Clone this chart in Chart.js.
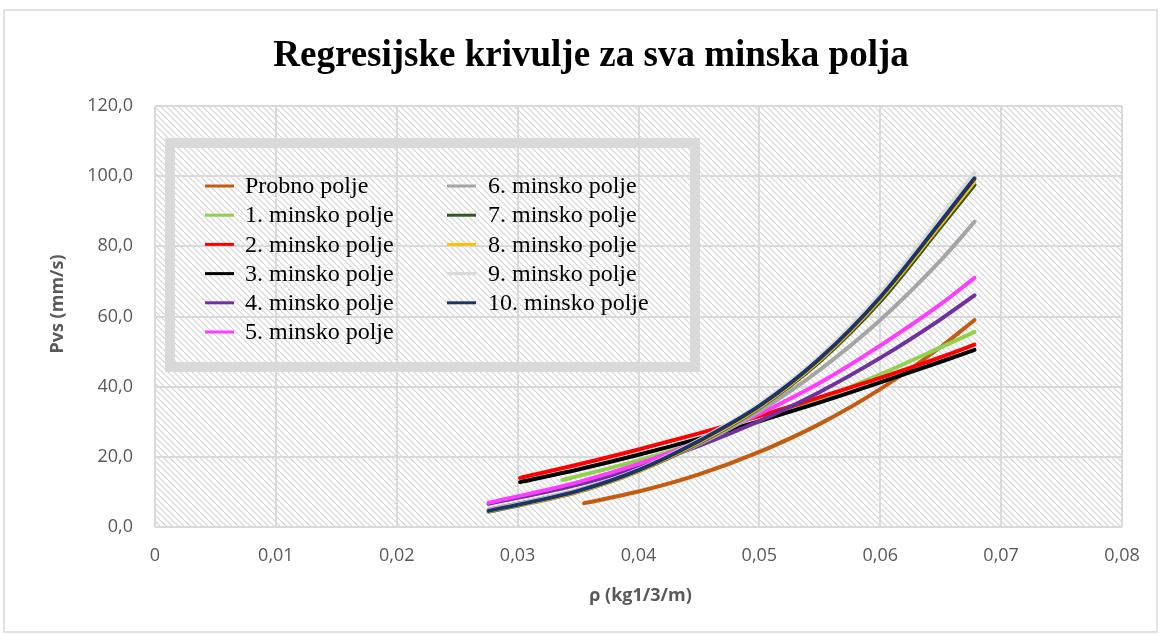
<!DOCTYPE html>
<html>
<head>
<meta charset="utf-8">
<script src="https://cdn.jsdelivr.net/npm/chart.js@4.4.1/dist/chart.umd.min.js"></script>
<style>
  body { margin: 0; background: #fff; }
  #wrap { width: 1160px; height: 635px; }
</style>
</head>
<body>
<div id="wrap"><canvas id="myChart" width="1160" height="635"></canvas></div>
<script>
const chartTitle = 'Regresijske krivulje za sva minska polja';
const xAxisTitle = 'ρ (kg1/3/m)';
const yAxisTitle = 'Pvs (mm/s)';

const seriesNames = [
  'Probno polje', '1. minsko polje', '2. minsko polje', '3. minsko polje',
  '4. minsko polje', '5. minsko polje', '6. minsko polje', '7. minsko polje',
  '8. minsko polje', '9. minsko polje', '10. minsko polje',
];
const seriesColors = [
  '#c55a11', '#92d050', '#ff0000', '#000000', '#7030a0', '#ff3cff',
  '#a5a5a5', '#375623', '#ffc000', '#d9d9d9', '#1c3468',
];

// rho values
const xProbno = [0.0355, 0.04, 0.045, 0.05, 0.055, 0.06, 0.065, 0.0678];
const xPolje1 = [0.0337, 0.035, 0.04, 0.045, 0.05, 0.055, 0.06, 0.065, 0.0678];
const xPolje23 = [0.0302, 0.035, 0.04, 0.045, 0.05, 0.055, 0.06, 0.065, 0.0678];
const xWide = [0.0276, 0.035, 0.04, 0.045, 0.05, 0.055, 0.06, 0.065, 0.0678];

// Pvs values (mm/s)
const yProbno = [6.8, 10.1, 15.0, 21.4, 29.4, 39.3, 51.3, 59.0];
const yPolje1 = [13.4, 14.5, 19.0, 24.2, 30.0, 36.4, 43.5, 51.2, 55.6];
const yPolje2 = [14.0, 17.8, 22.1, 26.7, 31.6, 37.0, 42.5, 48.4, 52.0];
const yPolje3 = [12.8, 16.4, 20.6, 25.2, 30.2, 35.5, 41.2, 47.1, 50.5];
const yPolje4 = [6.6, 12.1, 17.1, 23.1, 30.2, 38.5, 48.2, 59.2, 66.0];
const yPolje5 = [6.9, 12.8, 18.0, 24.5, 32.2, 41.1, 51.7, 63.5, 71.0];
const yPolje6 = [5.0, 10.6, 16.2, 23.6, 33.0, 44.8, 59.0, 76.0, 87.0];
const yPolje7 = [4.4, 10.0, 15.9, 24.0, 34.0, 47.2, 64.3, 85.5, 97.5];
const yPolje8 = [4.5, 10.1, 16.0, 24.2, 34.2, 47.6, 65.0, 86.3, 98.5];
const yPolje9 = [4.7, 10.4, 16.4, 24.8, 35.0, 48.7, 66.5, 88.5, 101.0];
const yPolje10 = [4.6, 10.3, 16.2, 24.5, 34.5, 48.0, 65.5, 87.0, 99.4];

const xSets = [xProbno, xPolje1, xPolje23, xPolje23, xWide, xWide, xWide, xWide, xWide, xWide, xWide];
const ySets = [yProbno, yPolje1, yPolje2, yPolje3, yPolje4, yPolje5, yPolje6, yPolje7, yPolje8, yPolje9, yPolje10];

const toPoints = (xs, ys) => xs.map((x, i) => ({ x, y: ys[i] }));
const comma = (v, d) => v.toFixed(d).replace('.', ',');

const makeHatch = (ctx) => {
  const c = document.createElement('canvas');
  c.width = 6;
  c.height = 6;
  const p = c.getContext('2d');
  p.fillStyle = '#ffffff';
  p.fillRect(0, 0, 6, 6);
  p.strokeStyle = '#d4d4d4';
  p.lineWidth = 1.2;
  p.beginPath();
  p.moveTo(-1, -1); p.lineTo(7, 7);
  p.moveTo(-1, 5); p.lineTo(1, 7);
  p.moveTo(5, -1); p.lineTo(7, 1);
  p.stroke();
  return ctx.createPattern(c, 'repeat');
};

const backgroundPlugin = {
  id: 'background',
  beforeDraw(chart) {
    const { ctx, chartArea } = chart;
    ctx.save();
    ctx.fillStyle = '#ffffff';
    ctx.fillRect(0, 0, chart.width, chart.height);
    ctx.strokeStyle = '#d9d9d9';
    ctx.lineWidth = 1.5;
    ctx.strokeRect(4, 10, chart.width - 7, chart.height - 13);
    ctx.fillStyle = makeHatch(ctx);
    ctx.fillRect(chartArea.left, chartArea.top, chartArea.width, chartArea.height);
    ctx.restore();
  },
};

// title and axis titles, placed where the original has them
const titlesPlugin = {
  id: 'titles',
  afterDraw(chart) {
    const { ctx, chartArea } = chart;
    ctx.save();
    ctx.textAlign = 'center';
    ctx.textBaseline = 'middle';
    ctx.fillStyle = '#000000';
    ctx.font = 'bold 37px "Liberation Serif"';
    ctx.fillText(chartTitle, 591, 56);
    ctx.fillStyle = '#595959';
    ctx.font = 'bold 18px "Open Sans"';
    ctx.fillText(xAxisTitle, (chartArea.left + chartArea.right) / 2 + 2, 596);
    ctx.translate(58, 304);
    ctx.rotate(-Math.PI / 2);
    ctx.fillText(yAxisTitle, 0, 0);
    ctx.restore();
  },
};

const boxLegendPlugin = {
  id: 'boxLegend',
  afterDraw(chart) {
    const { ctx } = chart;
    ctx.save();
    ctx.strokeStyle = '#d9d9d9';
    ctx.lineWidth = 10;
    ctx.strokeRect(170, 143, 525, 224);
    ctx.font = '24px "Liberation Serif"';
    ctx.textBaseline = 'middle';
    ctx.fillStyle = '#000000';
    chart.data.datasets.forEach((ds, i) => {
      const col = i < 6 ? 0 : 1;
      const row = col === 0 ? i : i - 6;
      const y = 186 + row * 29.2;
      const lx = col === 0 ? 205 : 447;
      const tx = col === 0 ? 245 : 488;
      ctx.strokeStyle = ds.borderColor;
      ctx.lineWidth = 3;
      ctx.beginPath();
      ctx.moveTo(lx, y);
      ctx.lineTo(lx + 29, y);
      ctx.stroke();
      ctx.fillText(ds.label, tx, y + 1);
    });
    ctx.restore();
  },
};

const datasets = seriesNames.map((name, i) => ({
  label: name,
  data: toPoints(xSets[i], ySets[i]),
  borderColor: seriesColors[i],
  backgroundColor: seriesColors[i],
  borderWidth: 4,
  borderCapStyle: 'round',
  pointRadius: 0,
  cubicInterpolationMode: 'monotone',
  fill: false,
  order: seriesNames.length - i,
}));

const tickFont = { family: '"Open Sans"', size: 18 };

/* eslint-disable */
const regressionChart = new Chart('myChart', {
  /* eslint-enable */
  type: 'line',
  data: { datasets },
  options: {
    responsive: false,
    animation: false,
    layout: { padding: { left: 10, right: 38, top: 106, bottom: 0 } },
    plugins: {
      legend: { display: false },
      tooltip: { enabled: false },
      title: { display: false },
    },
    scales: {
      x: {
        type: 'linear',
        min: 0,
        max: 0.08,
        afterFit: (scale) => { scale.height = 108; },
        ticks: {
          stepSize: 0.01,
          color: '#595959',
          font: tickFont,
          padding: 18,
          maxRotation: 0,
          callback: (v) => (v === 0 ? '0' : comma(v, 2)),
        },
        grid: { color: '#d9d9d9', lineWidth: 2, drawTicks: false },
        border: { display: false },
      },
      y: {
        type: 'linear',
        min: 0,
        max: 120,
        afterFit: (scale) => { scale.width = 145; },
        ticks: {
          stepSize: 20,
          color: '#595959',
          font: tickFont,
          padding: 22,
          callback: (v) => comma(v, 1),
        },
        grid: { color: '#d9d9d9', lineWidth: 2, drawTicks: false },
        border: { display: false },
      },
    },
  },
  plugins: [backgroundPlugin, titlesPlugin, boxLegendPlugin],
});
</script>
</body>
</html>
